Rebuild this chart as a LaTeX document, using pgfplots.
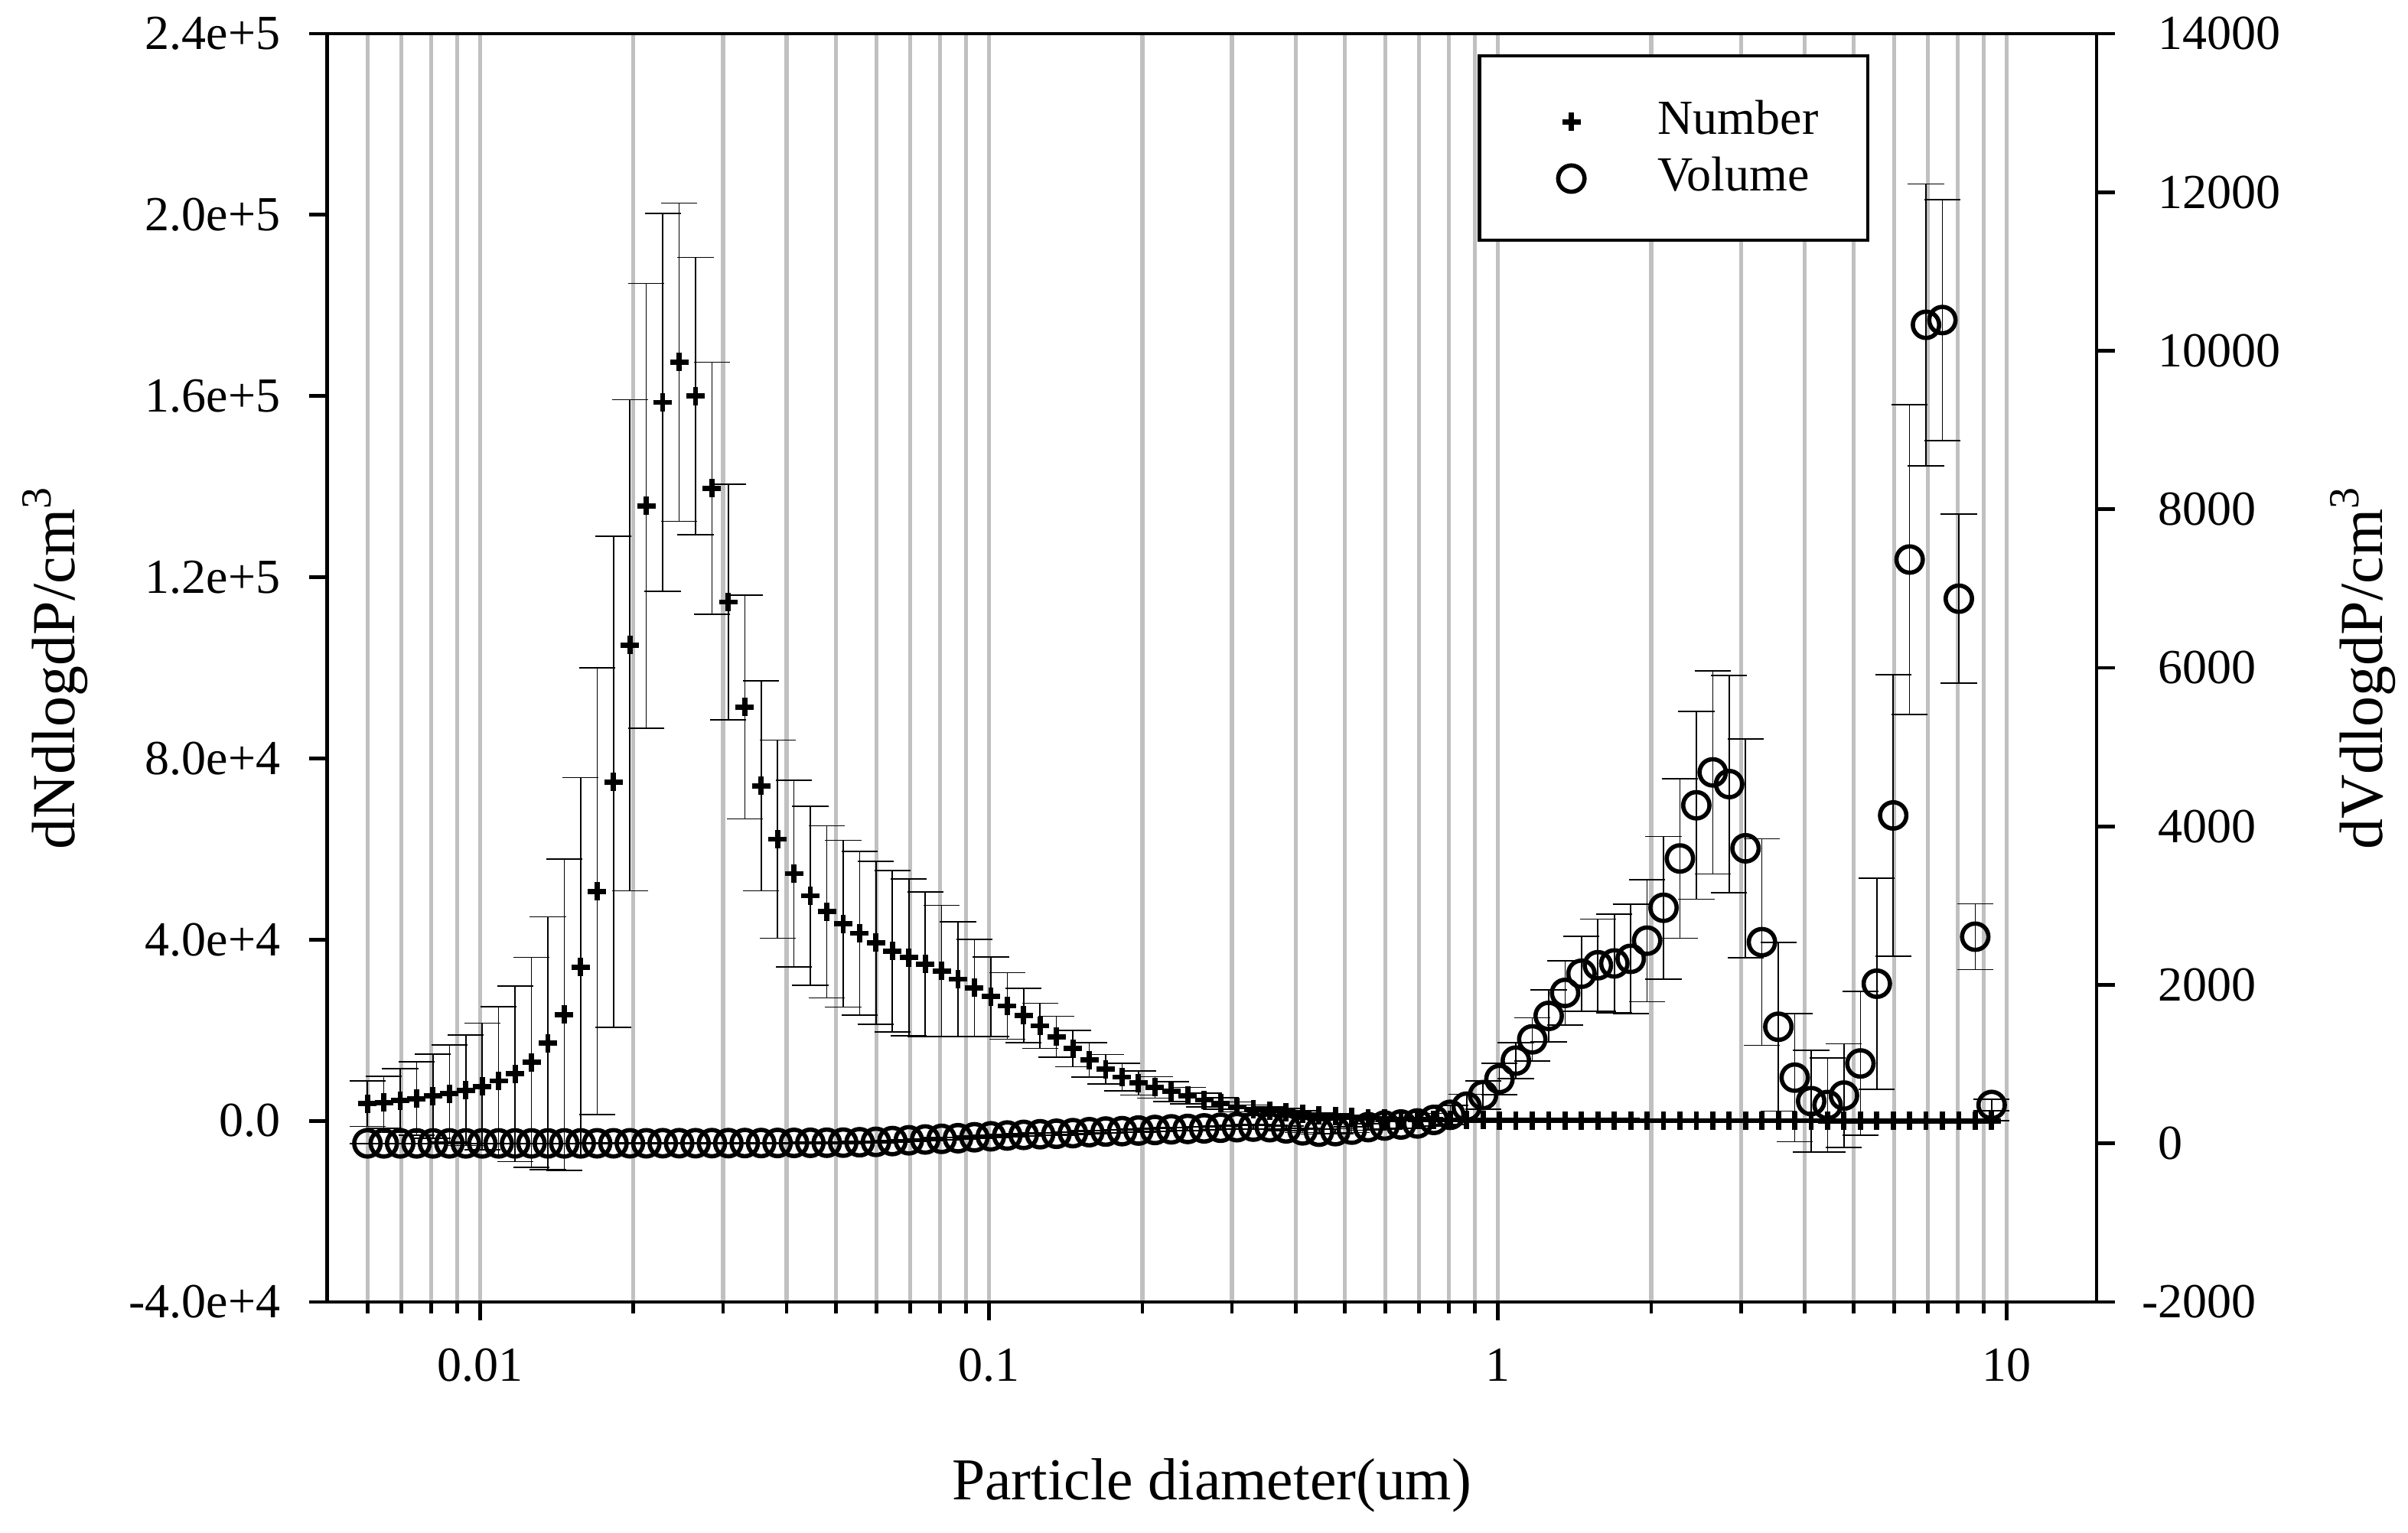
\documentclass[border=0pt]{standalone}
\usepackage{pgfplots}
\pgfplotsset{compat=1.18}
\usepackage{pgfplotstable}
\usepackage{fontspec}
\setmainfont{Liberation Serif}
\definecolor{gridgray}{RGB}{192,192,192}

\pgfplotstableread{
x N Ne V Ve
0.006000 3760 5000 1 3
0.006462 4050 5760 1 3
0.006960 4470 7000 1 3
0.007497 4890 8100 1 3
0.008074 5450 9300 1 3
0.008697 6010 10700 1 3
0.009367 6710 12200 1 3
0.010089 7560 14000 1 3
0.010866 8820 16400 1 3
0.011704 10360 19400 1 3
0.012605 12890 23200 1 3
0.013577 17100 27900 1 3
0.014623 23420 34400 1 3
0.015750 33950 41800 1 3
0.016964 50660 49300 2 3
0.018271 74800 54200 2 3
0.019679 105000 54200 2 3
0.021196 135740 49100 2 3
0.022829 158600 41700 3 3
0.024588 167470 35100 3 3
0.026483 160030 30600 3 4
0.028524 139670 27800 4 4
0.030722 114540 26000 4 5
0.033089 91370 24700 5 5
0.035639 73960 23200 5 6
0.038384 62170 21900 6 6
0.041342 54590 20600 7 7
0.044528 49670 19800 8 8
0.047959 46160 19000 9 8
0.051655 43500 18400 10 10
0.055636 41390 18100 15 10
0.059923 39290 18000 20 10
0.064541 37460 17800 30 12
0.069515 36060 17300 40 12
0.074871 34590 15950 50 12
0.080641 33080 14500 58 14
0.086855 31260 12700 66 14
0.093548 29370 10700 78 14
0.10076 27410 8770 90 15
0.10852 25370 7330 100 15
0.11688 23250 5970 108 16
0.12589 20980 4990 116 16
0.13559 18560 4530 122 17
0.14604 15920 4000 130 17
0.15730 13430 3780 142 18
0.16942 11380 3250 150 18
0.18247 9650 3020 155 19
0.19654 8360 2650 163 19
0.21168 7380 2340 170 20
0.22799 6470 2190 178 20
0.24556 5570 1810 183 21
0.26448 4580 1500 190 22
0.28486 3830 1300 198 23
0.30682 3070 1100 205 24
0.33046 2540 950 212 25
0.35593 2240 850 205 26
0.38335 1940 750 190 27
0.41290 1560 650 165 28
0.44471 1180 550 148 29
0.47898 1030 480 155 30
0.51589 800 400 174 35
0.55565 600 300 206 40
0.59845 450 250 226 45
0.64457 350 200 239 50
0.69424 280 150 252 60
0.74774 220 120 297 80
0.80536 180 100 361 120
0.86742 150 100 464 155
0.93426 130 100 610 181
1.00626 110 100 813 200
1.0838 100 100 1045 229
1.1673 90 100 1313 271
1.2573 80 100 1609 326
1.3541 70 100 1899 403
1.4585 60 100 2141 474
1.5709 55 100 2248 582
1.6920 50 100 2271 622
1.8223 45 100 2329 691
1.9628 40 100 2558 770
2.1140 35 100 2973 898
2.2769 30 100 3595 1007
2.4524 28 50 4266 1185
2.6414 25 50 4681 1283
2.8449 22 50 4533 1372
3.0641 20 50 3723 1382
3.3003 18 50 2539 1303
3.5546 15 50 1472 1066
3.8285 12 50 830 810
4.1235 10 50 534 642
4.4413 9 50 485 592
4.7835 8 50 604 652
5.1521 7 50 1009 908
5.5492 6 50 2015 1333
5.9768 5 50 4138 1777
6.4374 5 50 7366 1955
6.9334 4 50 10327 1777
7.4677 4 50 10387 1520
8.0432 3 50 6872 1066
8.6630 3 50 2608 415
9.3306 2 50 485 70
}\datatable

\begin{document}
\begin{tikzpicture}
\path[use as bounding box] (-106.875pt,-75.25pt) rectangle (679.875pt,425.5pt);
\begin{axis}[
  scale only axis,
  width=578.125pt, height=414.5pt,
  xmode=log, xmin=0.005, xmax=15,
  tick align=outside,
  major tick length=6pt, minor tick length=3.75pt,
  tick style={line width=1.2pt, black},
  axis line style={line width=1.2pt, black},
  tick label style={font=\fontsize{16}{19}\selectfont, inner sep=0pt},
  /pgf/number format/assume math mode=true,
  clip=false,
  ymin=-40000, ymax=240000,
  ytick={-40000,0,40000,80000,120000,160000,200000,240000},
  yticklabels={-4.0e+4,0.0,4.0e+4,8.0e+4,1.2e+5,1.6e+5,2.0e+5,2.4e+5},
  ytick pos=left, xtick pos=bottom,
  xtick={0.01,0.1,1,10},
  xticklabels={0.01,0.1,1,10},
  minor xtick={0.006,0.007,0.008,0.009,0.02,0.03,0.04,0.05,0.06,0.07,0.08,0.09,0.2,0.3,0.4,0.5,0.6,0.7,0.8,0.9,2,3,4,5,6,7,8,9},
  xmajorgrids=true, xminorgrids=true, ymajorgrids=false,
  grid style={line width=1.3pt, gridgray},
  minor grid style={line width=1.3pt, gridgray},
  yticklabel style={anchor=east, xshift=-9.125pt},
  xticklabel style={anchor=north, yshift=-9pt},
  xlabel={Particle diameter(um)},
  ylabel={dNdlogdP/cm\textsuperscript{3}},
  every axis x label/.style={at={(axis description cs:0.5,-0.15561)}, anchor=base, font=\fontsize{19.4}{23}\selectfont},
  every axis y label/.style={at={(axis description cs:-0.1429,0.5)}, rotate=90, anchor=base, font=\fontsize{20}{24}\selectfont},
]
\addplot[only marks, mark=+, mark size=3pt, mark options={line width=1.7pt, black}, black,
  error bars/y dir=both, error bars/y explicit,
  error bars/error bar style={line width=0.4pt, black},
  error bars/error mark options={rotate=90, mark size=5.9pt, line width=0.4pt, black}]
  table[x=x, y=N, y error=Ne] {\datatable};
\end{axis}
\begin{axis}[
  scale only axis,
  width=578.125pt, height=414.5pt,
  xmode=log, xmin=0.005, xmax=15,
  tick align=outside,
  major tick length=6pt, minor tick length=3.75pt,
  tick style={line width=1.2pt, black},
  axis line style={line width=1.2pt, black},
  tick label style={font=\fontsize{16}{19}\selectfont, inner sep=0pt},
  /pgf/number format/assume math mode=true,
  clip=false,
  ymin=-2000, ymax=14000,
  ytick={-2000,0,2000,4000,6000,8000,10000,12000,14000},
  yticklabels={\llap{-}2000,0,2000,4000,6000,8000,10000,12000,14000},
  axis y line*=right, axis x line=none,
  yticklabel style={anchor=west, xshift=14pt},
  ylabel={dVdlogdP/cm\textsuperscript{3}},
  every axis y label/.style={at={(axis description cs:1.1613,0.5)}, rotate=90, anchor=base, font=\fontsize{20}{24}\selectfont},
  legend style={at={(axis description cs:0.87157,0.98372)}, anchor=north east,
    draw=black, line width=1.1pt, fill=white,
    inner xsep=10pt, inner ysep=11.625pt, row sep=0pt, column sep=0pt,
    font=\fontsize{16}{19}\selectfont,
    nodes={inner sep=0pt}},
  legend cell align=left,
  legend image code/.code={
    \path[draw=none,fill=none] (-20pt,-9.25pt) rectangle (28.25pt,9.25pt);
    \draw[#1] plot coordinates {(0pt,-0.7pt)};
  },
]
\addlegendimage{only marks, mark=+, mark size=3pt, mark options={line width=1.7pt, black}, black}
\addlegendentry{\makebox[58.55pt][l]{Number}}
\addplot[only marks, mark=o, mark size=4.3pt, mark options={line width=1.4pt, black, fill=white}, black,
  error bars/y dir=both, error bars/y explicit,
  error bars/error bar style={line width=0.4pt, black},
  error bars/error mark options={rotate=90, mark size=5.9pt, line width=0.4pt, black}]
  table[x=x, y=V, y error=Ve] {\datatable};
\addlegendentry{\makebox[58.55pt][l]{Volume}}
\end{axis}
\end{tikzpicture}
\end{document}
